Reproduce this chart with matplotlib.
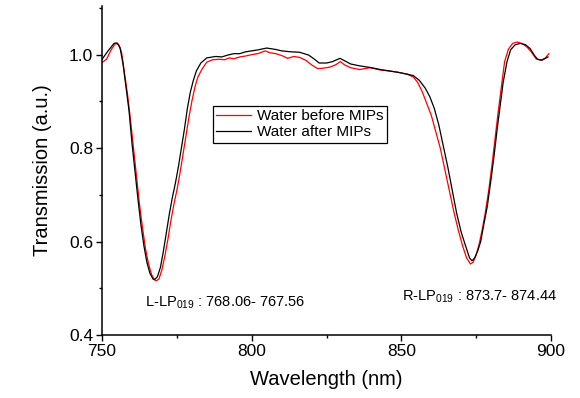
import matplotlib
matplotlib.use('Agg')
import matplotlib.pyplot as plt
from matplotlib.ticker import MultipleLocator

plt.rcParams['font.family'] = ['Liberation Sans', 'DejaVu Sans']
plt.rcParams['mathtext.default'] = 'regular'

# Water after MIPs (black)
wl_after = [750, 752, 754, 755, 756, 757, 758, 759, 760, 761, 762, 763, 764, 765, 766,
            767, 767.6, 768.5, 769.5, 770.5, 771.5, 772.5, 773.5, 774.5, 775.5, 776.5,
            777.5, 778.5, 779.5, 780.5, 781.5, 783, 785, 788, 790, 792, 794, 796, 798,
            800, 802, 805, 808, 810, 813, 816, 819, 821, 822.5, 825, 827, 829.5, 831,
            833, 836, 840, 843, 846, 849, 852, 854, 856, 858, 859.5, 861, 862.5, 864,
            865.5, 867, 868.5, 870, 871.5, 872.8, 873.6, 874.5, 875.5, 876.5, 877.5,
            878.7, 880, 881, 882, 883, 884, 885.3, 886.5, 888, 889.8, 891.5, 893,
            894.5, 895.5, 897, 899]
tr_after = [0.990, 1.008, 1.024, 1.025, 1.015, 0.980, 0.930, 0.880, 0.810, 0.750, 0.690,
            0.635, 0.590, 0.555, 0.532, 0.520, 0.519, 0.525, 0.545, 0.580, 0.620, 0.660,
            0.695, 0.725, 0.760, 0.800, 0.840, 0.885, 0.920, 0.945, 0.965, 0.982, 0.993,
            0.996, 0.995, 0.999, 1.002, 1.002, 1.006, 1.008, 1.010, 1.014, 1.011, 1.008,
            1.006, 1.005, 0.999, 0.990, 0.982, 0.982, 0.985, 0.992, 0.987, 0.980, 0.976,
            0.972, 0.968, 0.965, 0.962, 0.958, 0.955, 0.945, 0.928, 0.910, 0.885, 0.850,
            0.805, 0.760, 0.710, 0.660, 0.620, 0.590, 0.565, 0.559, 0.565, 0.580, 0.600,
            0.635, 0.675, 0.735, 0.785, 0.840, 0.890, 0.940, 0.985, 1.010, 1.021, 1.024,
            1.021, 1.013, 0.998, 0.990, 0.988, 0.995]

# Water before MIPs (red)
wl_before = [750, 751.5, 753, 754.5, 755.5, 756.5, 757.5, 758.5, 759.5, 760.5, 761.5,
             762.5, 763.5, 764.5, 765.5, 766.5, 767.5, 768.1, 769, 770, 771, 772, 773,
             774, 775, 776, 777, 778, 779, 780, 781, 782, 783.5, 785, 787, 789, 791,
             792.5, 794, 796, 798, 800, 802, 804.5, 806, 808, 810, 812, 814, 816, 818,
             820, 822, 824, 826, 828, 829.6, 831, 833, 836, 839.6, 843, 846, 849, 852,
             854, 855.5, 857, 858.5, 860, 861.5, 863, 864.5, 866, 867.5, 869, 870.5,
             871.8, 873.1, 874, 875, 876, 877, 878, 879.2, 880.3, 881.3, 882.3, 883.3,
             884.5, 885.8, 887.2, 888.7, 890.5, 892, 893.5, 895, 896.5, 898, 899.3]
tr_before = [0.983, 0.990, 1.010, 1.024, 1.022, 1.005, 0.960, 0.915, 0.860, 0.800, 0.740,
             0.680, 0.630, 0.585, 0.553, 0.530, 0.518, 0.516, 0.520, 0.540, 0.570, 0.605,
             0.645, 0.680, 0.710, 0.745, 0.785, 0.825, 0.865, 0.900, 0.930, 0.952, 0.970,
             0.984, 0.989, 0.990, 0.989, 0.993, 0.991, 0.995, 0.997, 1.000, 1.002, 1.008,
             1.004, 1.002, 0.998, 0.992, 0.996, 0.994, 0.988, 0.978, 0.970, 0.971, 0.973,
             0.978, 0.985, 0.978, 0.972, 0.968, 0.972, 0.967, 0.965, 0.962, 0.958, 0.952,
             0.940, 0.920, 0.895, 0.870, 0.835, 0.800, 0.755, 0.710, 0.665, 0.625, 0.590,
             0.565, 0.552, 0.556, 0.572, 0.595, 0.625, 0.660, 0.710, 0.765, 0.820, 0.875,
             0.925, 0.985, 1.012, 1.024, 1.027, 1.023, 1.016, 1.005, 0.991, 0.988, 0.992,
             1.002]

fig = plt.figure(figsize=(5.8, 3.98), dpi=100)
ax = fig.add_axes([0.176, 0.158, 0.774, 0.827])

ax.plot(wl_before, tr_before, color='red', lw=0.9, label='Water before MIPs')
ax.plot(wl_after, tr_after, color='black', lw=0.9, label='Water after MIPs')

ax.set_xlim(750, 900)
ax.set_ylim(0.4, 1.104)
ax.xaxis.set_major_locator(MultipleLocator(50))
ax.xaxis.set_minor_locator(MultipleLocator(25))
ax.yaxis.set_major_locator(MultipleLocator(0.2))
ax.yaxis.set_minor_locator(MultipleLocator(0.1))
ax.tick_params(which='major', direction='out', length=4, width=1, labelsize=12.5, pad=2.5)
ax.tick_params(which='minor', direction='out', length=2.5, width=1)
ax.spines['top'].set_visible(False)
ax.spines['right'].set_visible(False)
for s in ['left', 'bottom']:
    ax.spines[s].set_linewidth(1.1)

ax.set_xlabel('Wavelength (nm)', fontsize=14.5, labelpad=8)
ax.set_ylabel('Transmission (a.u.)', fontsize=14.5, labelpad=12)

ax.text(764.4, 0.4605, r'L-LP$_{019}$ : 768.06- 767.56', fontsize=10.5, va='baseline')
ax.text(850.2, 0.473, r'R-LP$_{019}$ : 873.7- 874.44', fontsize=10.5, va='baseline')

leg = ax.legend(loc='upper left', bbox_to_anchor=(0.247, 0.697), borderaxespad=0,
                fontsize=11, fancybox=False, edgecolor='black', framealpha=1,
                handlelength=2.3, handletextpad=0.35, borderpad=0.22, labelspacing=0.15)
leg.get_frame().set_linewidth(0.9)

fig.savefig('out.png', dpi=100)
